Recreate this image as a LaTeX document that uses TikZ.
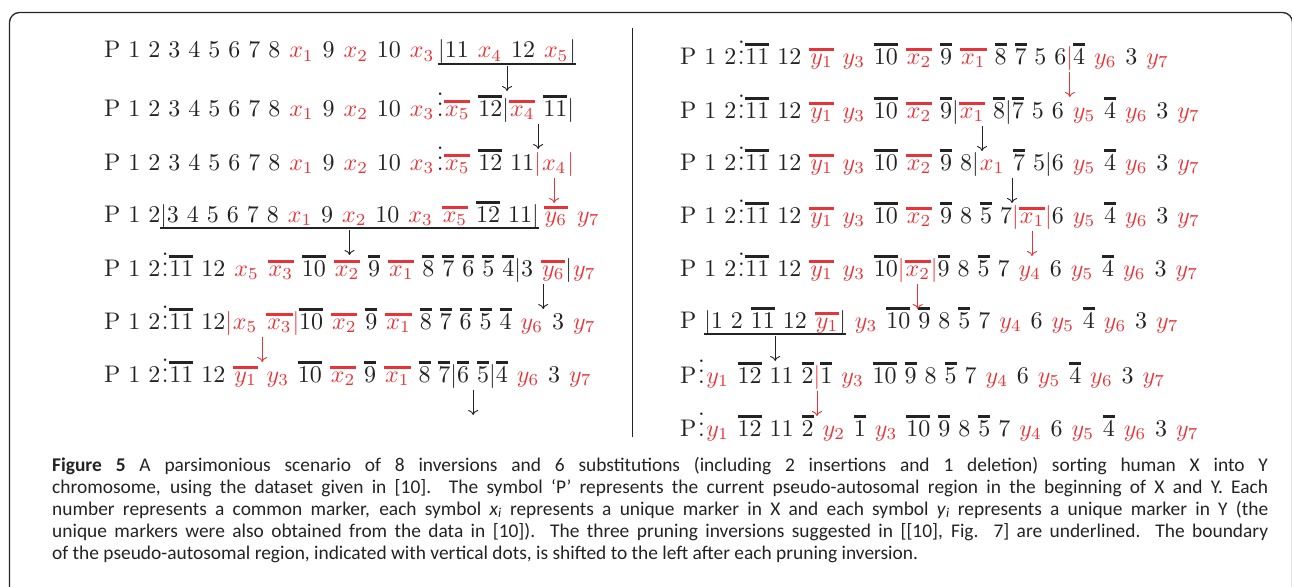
\documentclass[tikz,border=0pt]{standalone}
\usepackage{fontspec}
\setmainfont{lmroman10-regular.otf}[ItalicFont=lmroman10-italic.otf, BoldFont=lmroman10-bold.otf]
\newfontfamily\capfont{Carlito}
% math fonts scaled from their text designs
\DeclareFontShape{OML}{cmm}{m}{it}{<-18>cmmi7 <18->cmmi10}{}
\DeclareFontShape{OT1}{cmr}{m}{n}{<-18>cmr7 <18->cmr10}{}
\DeclareFontShape{OMS}{cmsy}{m}{n}{<-18>cmsy7 <18->cmsy10}{}
\usetikzlibrary{arrows.meta}
\definecolor{mred}{RGB}{232,52,56}
\definecolor{ink}{RGB}{35,35,35}

% marker items
\newcommand\ovl[1]{\vbox{\hrule height 2.4pt\kern 2.8pt\hbox{#1}}}
\newcommand\mk[1]{$\kern1pt#1\kern1.5pt$}
\newcommand\rd[1]{{\color{mred}\mk{#1}}}
\newcommand\ob[1]{\ovl{$#1$}}
\newcommand\rob[1]{{\color{mred}\ovl{\mk{#1}}}}
\newcommand\bk{$|$}
\newcommand\rbk{{\color{mred}$|$}}
\newcommand\wsp{\kern0.333em}
% boundary of the pseudo-autosomal region
\newcommand\vd{\kern5pt\makebox[0pt]{.}\makebox[0pt]{\raisebox{0.43em}{.}}\makebox[0pt]{\raisebox{0.86em}{.}}\kern4pt}

\tikzset{
  row/.style={anchor=base west, inner sep=0pt, outer sep=0pt, text=ink,
    font=\fontsize{24}{28}\selectfont},
  arr/.style={-{Computer Modern Rightarrow[length=5pt,width=10pt]}, line width=0.9pt, ink},
  rarr/.style={arr, mred},
  uline/.style={line width=1.8pt, ink},
  capline/.style={anchor=base west, inner sep=0pt, text=ink,
    font=\capfont\fontsize{19.4}{22}\selectfont},
}

\begin{document}
\begin{tikzpicture}[x=1pt,y=-1pt]
\useasboundingbox (0,0) rectangle (1292,586);
\draw[rounded corners=10pt, line width=1.3pt, black!85] (9.5,12.5) rectangle (1292.5,640);
\draw[line width=0.8pt, ink] (632,28) -- (632,437);

% ---------- left column ----------
\node[row] (L1a) at (104,58) {P 1 2 3 4 5 6 7 8 \rd{x_1} 9 \rd{x_2} 10 \rd{x_3}\kern3pt};
\node[row] (L1b) at (L1a.base east) {\bk 11 \rd{x_4} 12 \rd{x_5}\bk};

\node[row] (L2a) at (104,116) {P 1 2 3 4 5 6 7 8 \rd{x_1} 9 \rd{x_2} 10 \rd{x_3}\vd\rob{x_5} \ob{12}};
\node[row] (L2b) at (L2a.base east) {\bk\rob{x_4} \ob{11}\bk};

\node[row] (L3a) at (104,170) {P 1 2 3 4 5 6 7 8 \rd{x_1} 9 \rd{x_2} 10 \rd{x_3}\vd\rob{x_5} \ob{12} 11};
\node[row] (L3b) at (L3a.base east) {\rbk\rd{x_4}\rbk};

\node[row] (L4a) at (104,222) {P 1 2};
\node[row] (L4b) at (L4a.base east) {\bk 3 4 5 6 7 8 \rd{x_1} 9 \rd{x_2} 10 \rd{x_3} \rob{x_5} \ob{12} 11\bk};
\node[row] (L4c) at (L4b.base east) {\kern5pt\rob{y_6} \rd{y_7}};

\node[row] (L5a) at (104,276) {P 1 2\vd\ob{11} 12 \rd{x_5} \rob{x_3} \ob{10} \rob{x_2} \ob{9} \rob{x_1} \ob{8} \ob{7} \ob{6} \ob{5} \ob{4}};
\node[row] (L5b) at (L5a.base east) {\bk 3 \rob{y_6}\bk};
\node[row] (L5c) at (L5b.base east) {\rd{y_7}};

\node[row] (L6a) at (104,329) {P 1 2\vd\ob{11} 12};
\node[row] (L6b) at (L6a.base east) {\rbk\rd{x_5} \rob{x_3}\rbk};
\node[row] (L6c) at (L6b.base east) {\ob{10} \rob{x_2} \ob{9} \rob{x_1} \ob{8} \ob{7} \ob{6} \ob{5} \ob{4} \rd{y_6} 3 \rd{y_7}};

\node[row] (L7a) at (104,382) {P 1 2\vd\ob{11} 12 \rob{y_1} \rd{y_3} \ob{10} \rob{x_2} \ob{9} \rob{x_1} \ob{8} \ob{7}};
\node[row] (L7b) at (L7a.base east) {\bk\ob{6} \ob{5}\bk};
\node[row] (L7c) at (L7b.base east) {\ob{4} \rd{y_6} 3 \rd{y_7}};

% ---------- right column ----------
\node[row] (R1a) at (680,64) {P 1 2\vd\ob{11} 12 \rob{y_1} \rd{y_3} \ob{10} \rob{x_2} \ob{9} \rob{x_1} \ob{8} \ob{7} 5 6};
\node[row] (R1b) at (R1a.base east) {\rbk};
\node[row] (R1c) at (R1b.base east) {\ob{4} \rd{y_6} 3 \rd{y_7}};

\node[row] (R2a) at (680,118) {P 1 2\vd\ob{11} 12 \rob{y_1} \rd{y_3} \ob{10} \rob{x_2} \ob{9}};
\node[row] (R2b) at (R2a.base east) {\bk\rob{x_1} \ob{8}\bk};
\node[row] (R2c) at (R2b.base east) {\ob{7} 5 6 \rd{y_5} \ob{4} \rd{y_6} 3 \rd{y_7}};

\node[row] (R3a) at (680,170) {P 1 2\vd\ob{11} 12 \rob{y_1} \rd{y_3} \ob{10} \rob{x_2} \ob{9} 8};
\node[row] (R3b) at (R3a.base east) {\bk\rd{x_1} \ob{7} 5\bk};
\node[row] (R3c) at (R3b.base east) {6 \rd{y_5} \ob{4} \rd{y_6} 3 \rd{y_7}};

\node[row] (R4a) at (680,223) {P 1 2\vd\ob{11} 12 \rob{y_1} \rd{y_3} \ob{10} \rob{x_2} \ob{9} 8 \ob{5} 7};
\node[row] (R4b) at (R4a.base east) {\rbk\rob{x_1}\rbk};
\node[row] (R4c) at (R4b.base east) {6 \rd{y_5} \ob{4} \rd{y_6} 3 \rd{y_7}};

\node[row] (R5a) at (680,276) {P 1 2\vd\ob{11} 12 \rob{y_1} \rd{y_3} \ob{10}};
\node[row] (R5b) at (R5a.base east) {\rbk\rob{x_2}\rbk};
\node[row] (R5c) at (R5b.base east) {\ob{9} 8 \ob{5} 7 \rd{y_4} 6 \rd{y_5} \ob{4} \rd{y_6} 3 \rd{y_7}};

\node[row] (R6a) at (680,328) {P\wsp};
\node[row] (R6b) at (R6a.base east) {\bk 1 2 \ob{11} 12 \rob{y_1}\bk};
\node[row] (R6c) at (R6b.base east) {\ \rd{y_3} \ob{10} \ob{9} 8 \ob{5} 7 \rd{y_4} 6 \rd{y_5} \ob{4} \rd{y_6} 3 \rd{y_7}};

\node[row] (R7a) at (680,383) {P\vd\rd{y_1} \ob{12} 11 \ob{2}};
\node[row] (R7b) at (R7a.base east) {\rbk};
\node[row] (R7c) at (R7b.base east) {\ob{1} \rd{y_3} \ob{10} \ob{9} 8 \ob{5} 7 \rd{y_4} 6 \rd{y_5} \ob{4} \rd{y_6} 3 \rd{y_7}};

\node[row] (R8a) at (680,436) {P\vd\rd{y_1} \ob{12} 11 \ob{2} \rd{y_2} \ob{1} \rd{y_3} \ob{10} \ob{9} 8 \ob{5} 7 \rd{y_4} 6 \rd{y_5} \ob{4} \rd{y_6} 3 \rd{y_7}};

% ---------- pruning inversions ----------
\foreach \s in {L1b,L4b,R6b}
  \draw[uline] ([yshift=-6pt]\s.base west) -- ([yshift=-6pt]\s.base east);

% ---------- steps ----------
\foreach \s in {L1b,L2b,L4b,L5b,L7b,R2b,R3b,R6b}
  \draw[arr] ([yshift=-8pt]\s.base) -- ([yshift=-33pt]\s.base);
\foreach \s in {L3b,L6b,R1b,R4b,R5b,R7b}
  \draw[rarr] ([yshift=-8pt]\s.base) -- ([yshift=-33pt]\s.base);

% ---------- caption ----------
\node[capline] (c1) at (52,471) {\makebox[1216pt][s]{\textbf{Figure 5} A parsimonious scenario of 8 inversions and 6 substitutions (including 2 insertions and 1 deletion) sorting human X into Y}};
\node[capline] (c2) at (52,493) {\makebox[1216pt][s]{chromosome, using the dataset given in [10]. The symbol ‘P’ represents the current pseudo-autosomal region in the beginning of X and Y. Each}};
\node[capline] (c3) at (52,515) {\makebox[1216pt][s]{number represents a common marker, each symbol \textit{x}\textsubscript{\textit{i}} represents a unique marker in X and each symbol \textit{y}\textsubscript{\textit{i}} represents a unique marker in Y (the}};
\node[capline] (c4) at (52,537) {\makebox[1216pt][s]{unique markers were also obtained from the data in [10]). The three pruning inversions suggested in [[10], Fig. 7] are underlined. The boundary}};
\node[capline] (c5) at (52,559) {of the pseudo-autosomal region, indicated with vertical dots, is shifted to the left after each pruning inversion.};
\end{tikzpicture}
\end{document}
